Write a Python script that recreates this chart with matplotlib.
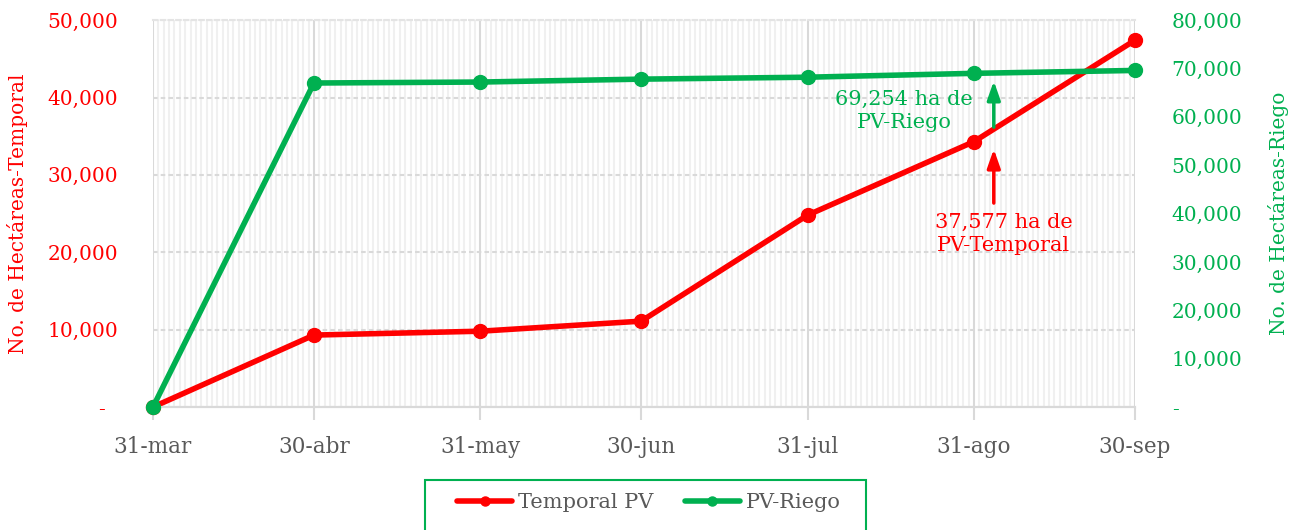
#!/usr/bin/env python3
# -*- coding: utf-8 -*-

import datetime as dt
import matplotlib
matplotlib.use('Agg')
import matplotlib.pyplot as plt
import matplotlib.dates as mdates
import matplotlib.ticker as ptick
from matplotlib.patches import Rectangle

# fechas de corte (2021)
fechas = ['2021-03-31', '2021-04-30', '2021-05-31', '2021-06-30',
		  '2021-07-31', '2021-08-31', '2021-09-30']
etiquetas = ['31-mar', '30-abr', '31-may', '30-jun', '31-jul', '31-ago', '30-sep']
temporal = [0, 9300, 9800, 11100, 24800, 34300, 47400]
riego = [0, 67000, 67200, 67800, 68200, 69000, 69600]

ROJO = '#FF0000'
VERDE = '#00B050'
GRIS = '#595959'

plt.rcParams['font.family'] = ['DejaVu Serif']
plt.rcParams['font.size'] = 14


def fmt_miles(v, pos):
	if abs(v) < 1e-6:
		return '-  '
	return '{:,.0f}'.format(v)


def fmt_miles_r(v, pos):
	if abs(v) < 1e-6:
		return '-'
	return '{:,.0f}'.format(v)


def main():
	x = [dt.datetime.strptime(f, '%Y-%m-%d') for f in fechas]
	xn = mdates.date2num(x)

	fig = plt.figure(figsize=(13.03, 5.30), dpi=100)
	ax1 = fig.add_axes([0.1174, 0.232, 0.871 - 0.1174, 0.962 - 0.232])
	ax2 = ax1.twinx()

	ax1.set_xlim(xn[0], xn[-1])
	ax1.set_ylim(0, 50000)
	ax2.set_ylim(0, 80000)

	# rejilla
	ax1.xaxis.set_major_locator(ptick.FixedLocator(xn))
	ax1.xaxis.set_minor_locator(mdates.DayLocator())
	ax1.set_xticklabels(etiquetas, color=GRIS, fontsize=15.5)
	ax1.grid(which='minor', axis='x', color='#f0f0f0', lw=1.5)
	ax1.grid(which='major', axis='x', color='#d9d9d9', lw=1.5)
	ax1.grid(which='major', axis='y', color='#d9d9d9', lw=1.5, ls=(0, (2.2, 1.5)))
	ax1.tick_params(axis='x', which='major', length=9, color='#d9d9d9', width=1.5, pad=12)
	ax1.tick_params(axis='x', which='minor', length=0)
	ax1.set_axisbelow(True)

	for a in (ax1, ax2):
		for s in ('left', 'right', 'top'):
			a.spines[s].set_visible(False)
		a.spines['bottom'].set_color('#d9d9d9')
		a.spines['bottom'].set_linewidth(1.5)
	ax1.spines['top'].set_visible(True)
	ax1.spines['top'].set_color('#e4e4e4')
	ax1.spines['top'].set_linewidth(1.5)
	ax1.spines['top'].set_linestyle((0, (2.2, 1.5)))

	ax1.yaxis.set_major_locator(ptick.MultipleLocator(10000))
	ax2.yaxis.set_major_locator(ptick.MultipleLocator(10000))
	ax1.yaxis.set_major_formatter(ptick.FuncFormatter(fmt_miles))
	ax2.yaxis.set_major_formatter(ptick.FuncFormatter(fmt_miles_r))
	ax1.tick_params(axis='y', length=0, labelcolor=ROJO, labelsize=14.5, pad=25)
	ax2.tick_params(axis='y', length=0, labelcolor=VERDE, labelsize=14.5, pad=26.5)

	ax1.set_ylabel('No. de Hectáreas-Temporal', color=ROJO, fontsize=14.5)
	ax2.set_ylabel('No. de Hectáreas-Riego', color=VERDE, fontsize=14.5)
	ax1.yaxis.set_label_coords(-0.1273, 0.5)
	ax2.yaxis.set_label_coords(1.1354, 0.5)

	l1, = ax1.plot(xn, temporal, color=ROJO, lw=4, marker='o', ms=10,
				   solid_capstyle='round', label='Temporal PV', zorder=5, clip_on=False)
	l2, = ax2.plot(xn, riego, color=VERDE, lw=4, marker='o', ms=10,
				   solid_capstyle='round', label='PV-Riego', zorder=5, clip_on=False)
	ax2.set_zorder(ax1.get_zorder() + 1)
	ax2.patch.set_visible(False)

	# flechas y notas
	xa = xn[5] + 3.7
	ax2.annotate('', xy=(xa, 68000), xytext=(xa, 57300),
				 arrowprops=dict(arrowstyle='-|>,head_length=0.8,head_width=0.28', color=VERDE, lw=2.5))
	ax1.annotate('', xy=(xa, 33700), xytext=(xa, 26000),
				 arrowprops=dict(arrowstyle='-|>,head_length=0.8,head_width=0.28', color=ROJO, lw=2.5))
	ax1.text(0.765, 0.765, '69,254 ha de\nPV-Riego', transform=ax1.transAxes,
			 color=VERDE, ha='center', va='center', linespacing=1.25, fontsize=15)
	ax1.text(0.8666, 0.448, '37,577 ha de\nPV-Temporal', transform=ax1.transAxes,
			 color=ROJO, ha='center', va='center', linespacing=1.25, fontsize=15)

	# leyenda: marco dibujado aparte (como en Excel)
	marco = Rectangle((425 / 1303, -0.01), 441 / 1303, 1 - 480 / 530 + 0.01,
					  transform=fig.transFigure, fill=False, edgecolor=VERDE, lw=1.5)
	fig.patches.append(marco)
	leg = fig.legend(handles=[l1, l2], loc='center',
					 bbox_to_anchor=(649 / 1303, 1 - 503 / 530),
					 ncol=2, frameon=False, handlelength=2.64, handletextpad=0.29,
					 columnspacing=1.49, borderpad=0, borderaxespad=0,
					 markerscale=0.65, fontsize=15)
	for t in leg.get_texts():
		t.set_color(GRIS)

	fig.savefig('out.png', dpi=100)


if __name__ == '__main__':
	main()
